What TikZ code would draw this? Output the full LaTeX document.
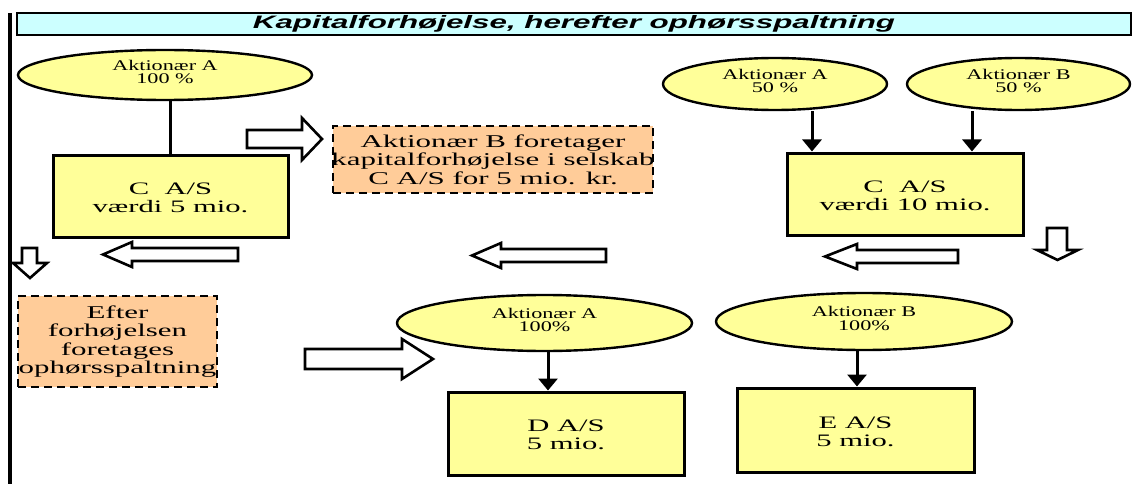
\documentclass[tikz,border=0pt]{standalone}
\usepackage{fontspec}
\setmainfont{Liberation Serif}
\newfontfamily\labelfont{Liberation Serif}[FakeStretch=1.75]
\newfontfamily\notefont{Liberation Serif}[FakeStretch=1.72]
\newfontfamily\ownerfont{Liberation Serif}[FakeStretch=1.5]
\newfontfamily\headfont{Liberation Sans}[FakeStretch=1.74]
\usetikzlibrary{shapes.geometric,arrows.meta}

\definecolor{boxyellow}{HTML}{FFFF99}
\definecolor{notebg}{HTML}{FFCC99}
\definecolor{titlebg}{HTML}{CCFFFF}

\tikzset{
  company/.style={draw, line width=3pt, fill=boxyellow, inner sep=0pt,
    align=center, text height=33pt, font=\labelfont\fontsize{17.5}{18}\selectfont},
  owner/.style={ellipse, draw, line width=2.4pt, fill=boxyellow, inner sep=0pt,
    align=center, text depth=6pt, font=\ownerfont\fontsize{14.8}{13.5}\selectfont},
  notebox/.style={draw, dash pattern=on 8pt off 5pt, line width=2.4pt, fill=notebg, inner sep=0pt},
  notetext/.style={inner sep=0pt, align=center, font=\notefont\fontsize{18}{18.5}\selectfont},
  link/.style={line width=3pt, -{Triangle[width=19pt,length=12pt]}},
  plainlink/.style={line width=3pt},
  blockarrow/.style={draw, line width=2.6pt, fill=white, line join=miter},
}

\begin{document}
\begin{tikzpicture}[x=1pt,y=-1pt]
\useasboundingbox (0,0) rectangle (1132,484);

% heading bar and left rule
\node[draw, line width=1.8pt, fill=titlebg, minimum width=1114pt, minimum height=22pt, inner sep=0pt,
      font=\headfont\bfseries\itshape\fontsize{18}{18}\selectfont] (title) at (574,24)
      {Kapitalforhøjelse, herefter ophørsspaltning};
\draw[line width=4.5pt] (10,13) -- (10,484);

% before the capital increase
\node[owner, minimum width=294pt, minimum height=50pt] (eA1) at (165,75) {Aktionær A\\100 \%};
\node[company, minimum width=235pt, minimum height=82pt] (c5) at (170.5,196) {C\ \ A/S\\værdi 5 mio.};
\draw[plainlink] (eA1.south -| c5.north) -- (c5.north);

% note on the capital increase
\node[notebox, minimum width=320pt, minimum height=67pt] (ob1) at (493,159.5) {};
\node[notetext] (ob1text) at (ob1.center) {Aktionær B foretager\\kapitalforhøjelse i selskab\\C A/S for 5 mio. kr.};

% after the capital increase
\node[owner, minimum width=224pt, minimum height=52pt] (eA2) at (775,84) {Aktionær A\\50 \%};
\node[owner, minimum width=223pt, minimum height=52pt] (eB2) at (1018.5,84) {Aktionær B\\50 \%};
\node[company, minimum width=236pt, minimum height=82pt] (c10) at (905,194) {C\ \ A/S\\værdi 10 mio.};
\draw[link] ([xshift=37pt]eA2.south) -- ([xshift=37pt]eA2.south |- c10.north);
\draw[link] ([xshift=-46.5pt]eB2.south) -- ([xshift=-46.5pt]eB2.south |- c10.north);

% note on the split
\node[notebox, minimum width=199pt, minimum height=91pt] (ob2) at (117.5,341.5) {};
\node[notetext] (ob2text) at (ob2.center) {Efter\\forhøjelsen\\foretages\\ophørsspaltning};

% after the split
\node[owner, minimum width=295pt, minimum height=56pt] (eA3) at (544.5,323) {Aktionær A\\100\%};
\node[company, minimum width=236pt, minimum height=83pt] (d) at (566,433.5) {D A/S\\5 mio.};
\draw[link] ([xshift=3.5pt]eA3.south) -- ([xshift=3.5pt]eA3.south |- d.north);

\node[owner, minimum width=296pt, minimum height=57pt] (eB3) at (864,321.5) {Aktionær B\\100\%};
\node[company, minimum width=237pt, minimum height=84pt] (e) at (855.5,430) {E A/S\\5 mio.};
\draw[link] ([xshift=-7pt]eB3.south) -- ([xshift=-7pt]eB3.south |- e.north);

% block arrows showing the reading order
\draw[blockarrow] (247,130) -- (302,130) -- (302,118) -- (322,139) -- (302,160) -- (302,148) -- (247,148) -- cycle;
\draw[blockarrow] (238,248) -- (132,248) -- (132,242) -- (103,254.5) -- (132,267) -- (132,261) -- (238,261) -- cycle;
\draw[blockarrow] (606,249) -- (501,249) -- (501,243) -- (472,255.5) -- (501,268) -- (501,262) -- (606,262) -- cycle;
\draw[blockarrow] (958,250) -- (857,250) -- (857,244) -- (825,256.5) -- (857,269) -- (857,263) -- (958,263) -- cycle;
\draw[blockarrow] (1047,228) -- (1067,228) -- (1067,250) -- (1078,250) -- (1057.5,260) -- (1037,250) -- (1047,250) -- cycle;
\draw[blockarrow] (22,248) -- (37,248) -- (37,263) -- (47,263) -- (30,278) -- (13,263) -- (22,263) -- cycle;
\draw[blockarrow] (305,349) -- (402,349) -- (402,339) -- (433,359) -- (402,379) -- (402,369) -- (305,369) -- cycle;
\end{tikzpicture}
\end{document}
